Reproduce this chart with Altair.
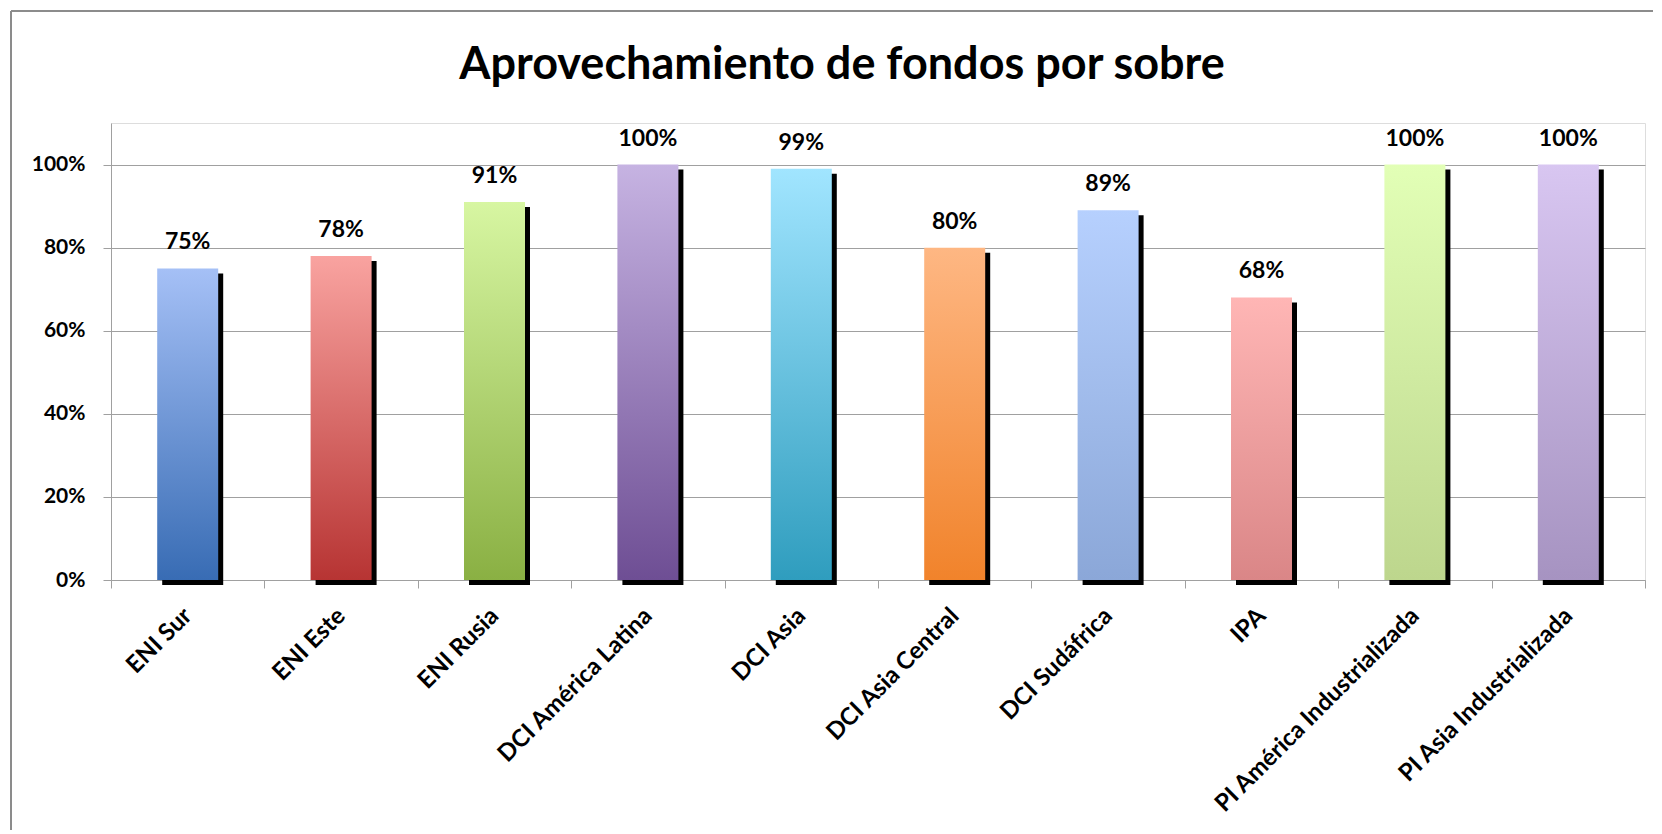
import altair as alt
import pandas as pd

categories = ["ENI Sur", "ENI Este", "ENI Rusia", "DCI América Latina", "DCI Asia",
              "DCI Asia Central", "DCI Sudáfrica", "IPA", "PI América Industrializada",
              "PI Asia Industrializada"]
values = [0.75, 0.78, 0.91, 1.00, 0.99, 0.80, 0.89, 0.68, 1.00, 1.00]
top_colors = ["#a5c0f6", "#f9a3a0", "#d7f6a2", "#c6b3e2", "#a1e5ff",
              "#feb783", "#b6d0fe", "#ffb6b5", "#e2ffb6", "#d8c6f1"]
bottom_colors = ["#386cb4", "#b73433", "#8ab043", "#6e4e94", "#2f9dbe",
                 "#f1832b", "#8ba7d8", "#da8687", "#bdd68d", "#a693c1"]
title_text = "Aprovechamiento de fondos por sobre"
y_ticks = [0, 0.2, 0.4, 0.6, 0.8, 1.0]

df = pd.DataFrame({"cat": categories, "val": values})
FONT = "Lato"

x_enc = alt.X("cat:N", sort=categories, title=None,
              scale=alt.Scale(paddingInner=0, paddingOuter=0),
              axis=alt.Axis(labelAngle=-45, labelAlign="right", labelBaseline="middle",
                            labelFontSize=24, labelFontWeight="bold", labelColor="#000000",
                            labelFont=FONT, labelPadding=24, tickBand="extent", tickSize=8,
                            tickColor="#a0a0a0", domainColor="#a0a0a0", labelLimit=400))
y_enc = alt.Y("val:Q", title=None,
              scale=alt.Scale(domain=[0, 1.1], nice=False),
              axis=alt.Axis(values=y_ticks, format=".0%", labelFontSize=21,
                            labelFontWeight="bold", labelColor="#000000", labelFont=FONT,
                            labelPadding=18, tickSize=8, tickColor="#a0a0a0",
                            domainColor="#a0a0a0", gridColor="#a0a0a0", grid=True))

base = alt.Chart(df)

shadow = base.mark_bar(color="#000000", size=61, xOffset=5, yOffset=5, y2Offset=0).encode(
    x=x_enc, y=y_enc)

layers = [shadow]
for c, t, b in zip(categories, top_colors, bottom_colors):
    grad = alt.Gradient(gradient="linear", x1=0, y1=0, x2=0, y2=1,
                        stops=[alt.GradientStop(offset=0, color=t),
                               alt.GradientStop(offset=1, color=b)])
    layers.append(base.transform_filter(alt.datum.cat == c)
                  .mark_bar(color=grad, size=61).encode(x=x_enc, y=y_enc))

labels = base.mark_text(font=FONT, fontSize=23, fontWeight="bold", color="#000000",
                        baseline="alphabetic", dy=-19).encode(
    x=x_enc, y=y_enc, text=alt.Text("val:Q", format=".0%"))
layers.append(labels)

border_left = alt.Chart(df).mark_rule(color="#8c8c8c", strokeWidth=1.3, clip=False).encode(
    x=alt.value(-100), y=alt.value(-112), y2=alt.value(720))
border_top = alt.Chart(df).mark_rule(color="#8c8c8c", strokeWidth=1.3, clip=False).encode(
    x=alt.value(-100), x2=alt.value(1560), y=alt.value(-112))
layers += [border_left, border_top]

chart = alt.layer(*layers).properties(
    width=1534, height=457,
    title=alt.TitleParams(title_text, font=FONT, fontSize=45, fontWeight="bold",
                          color="#000000", anchor="middle", dx=-36, dy=108, offset=30),
    autosize=alt.AutoSizeParams(type="none"),
    padding={"left": 103, "top": 115, "right": 8, "bottom": 250},
).configure_view(stroke=None).configure(background="#ffffff")

chart.save("out.html", embed_options={"renderer": "svg", "actions": False})
